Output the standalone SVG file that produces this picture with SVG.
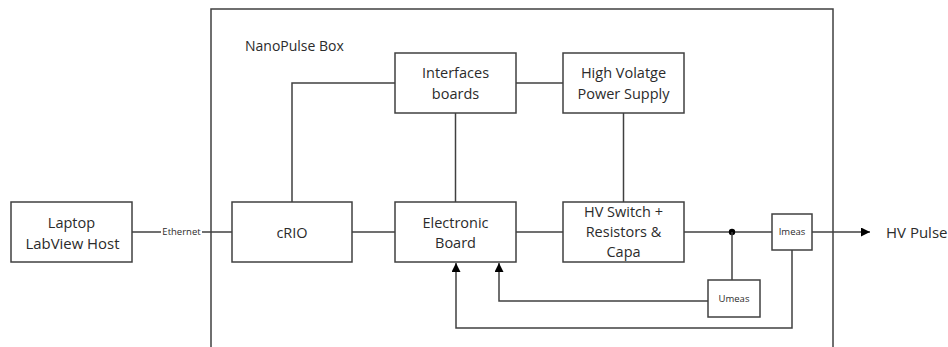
<svg xmlns="http://www.w3.org/2000/svg" width="948" height="347" viewBox="0 0 948 347">
  <defs>
    <marker id="arr" viewBox="0 0 10 10" refX="10" refY="5" markerWidth="9" markerHeight="9" markerUnits="userSpaceOnUse" orient="auto">
      <path d="M0,0 L10,5 L0,10 z" fill="#000"/>
    </marker>
  </defs>
  <style>
    .box { fill: #fff; stroke: #404040; stroke-width: 1.5; }
    .frame { fill: none; stroke: #404040; stroke-width: 1.5; }
    .lbl { font-family: "Open Sans", "Liberation Sans", sans-serif; font-size: 14.5px; fill: #2b2b2b; text-anchor: middle; }
    .sm { font-family: "Open Sans", "Liberation Sans", sans-serif; font-size: 9.5px; fill: #2b2b2b; text-anchor: middle; }
    .title { font-family: "Open Sans", "Liberation Sans", sans-serif; font-size: 14px; fill: #2b2b2b; }
    .wire { fill: none; stroke: #404040; stroke-width: 1.5; }
  </style>
  <rect width="948" height="347" fill="#fff"/>

  <g id="nanopulse-box">
    <rect class="frame" x="211" y="9" width="622" height="350"/>
    <text class="title" x="245" y="51">NanoPulse Box</text>
  </g>

  <g id="connectors">
    <path class="wire" d="M132,232 H161"/>
    <path class="wire" d="M202,232 H232"/>
    <text class="sm" x="181.5" y="235">Ethernet</text>
    <path class="wire" d="M292,202 V83 H395"/>
    <path class="wire" d="M516,83 H563"/>
    <path class="wire" d="M455.5,113 V202"/>
    <path class="wire" d="M623.5,113 V202"/>
    <path class="wire" d="M352,232 H395"/>
    <path class="wire" d="M516,232 H563"/>
    <path class="wire" d="M684,232 H772"/>
    <circle cx="732" cy="232" r="3.2" fill="#000"/>
    <path class="wire" d="M732,232 V280"/>
    <path class="wire" d="M708,301 H499 V263" marker-end="url(#arr)"/>
    <path class="wire" d="M792,250 V328 H456 V263" marker-end="url(#arr)"/>
    <path class="wire" d="M812,232 H870" marker-end="url(#arr)"/>
  </g>

  <g id="laptop">
    <rect class="box" x="11" y="202" width="121" height="60"/>
    <text class="lbl" x="71.5" y="228">Laptop</text>
    <text class="lbl" x="72.5" y="249" textLength="94" lengthAdjust="spacingAndGlyphs">LabView Host</text>
  </g>

  <g id="crio">
    <rect class="box" x="232" y="202" width="120" height="60"/>
    <text class="lbl" x="292" y="238">cRIO</text>
  </g>

  <g id="interfaces-boards">
    <rect class="box" x="395" y="53" width="121" height="60"/>
    <text class="lbl" x="455.5" y="78">Interfaces</text>
    <text class="lbl" x="455.5" y="99">boards</text>
  </g>

  <g id="hv-power-supply">
    <rect class="box" x="563" y="53" width="121" height="60"/>
    <text class="lbl" x="623.5" y="78">High Volatge</text>
    <text class="lbl" x="623.5" y="99">Power Supply</text>
  </g>

  <g id="electronic-board">
    <rect class="box" x="395" y="202" width="121" height="60"/>
    <text class="lbl" x="455.5" y="227.5">Electronic</text>
    <text class="lbl" x="455.5" y="247.5">Board</text>
  </g>

  <g id="hv-switch">
    <rect class="box" x="563" y="202" width="121" height="60"/>
    <text class="lbl" x="623.5" y="217">HV Switch +</text>
    <text class="lbl" x="623.5" y="237">Resistors &amp;</text>
    <text class="lbl" x="623.5" y="257">Capa</text>
  </g>

  <g id="imeas">
    <rect class="box" x="772" y="214" width="40" height="36"/>
    <text class="sm" x="792" y="235">Imeas</text>
  </g>

  <g id="umeas">
    <rect class="box" x="708" y="280" width="52" height="37"/>
    <text class="sm" x="734" y="302">Umeas</text>
  </g>

  <g id="hv-pulse">
    <text class="lbl" x="886" y="238" style="text-anchor:start;font-size:15px">HV Pulse</text>
  </g>
</svg>
